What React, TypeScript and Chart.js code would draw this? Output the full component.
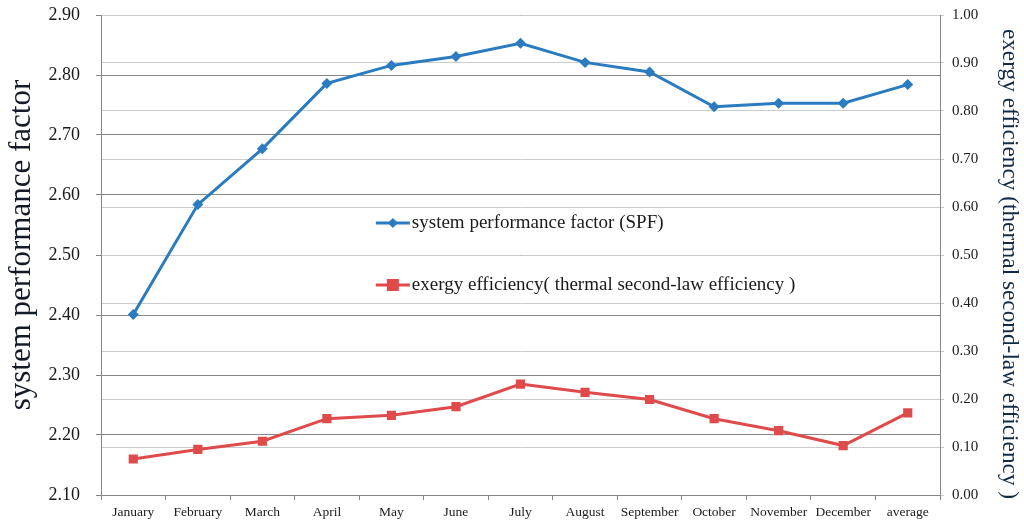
import React, { useEffect, useRef } from "react";
import { Chart, registerables } from "chart.js";

Chart.register(...registerables);

const categories = [
  "January", "February", "March", "April", "May", "June", "July",
  "August", "September", "October", "November", "December", "average",
];
const spfValues = [2.401, 2.584, 2.677, 2.786, 2.816, 2.831, 2.853, 2.821, 2.805, 2.747, 2.753, 2.753, 2.784];
const exergyValues = [0.075, 0.095, 0.112, 0.159, 0.166, 0.184, 0.231, 0.214, 0.199, 0.159, 0.134, 0.103, 0.171];
const spfLabel = "system performance factor (SPF)";
const exergyLabel = "exergy efficiency( thermal second-law efficiency )";
const leftTitle = "system performance factor";
const rightTitle = "exergy efficiency (thermal second-law efficiency )";

const SERIF = "'Liberation Serif', 'Times New Roman', serif";
const BLUE = "#2a7bbf";
const RED = "#df4a4a";
const DARK_GRID = "#878787";
const LIGHT_GRID = "#cbcbcb";

const legendPlugin = {
  id: "inlineLegend",
  afterDraw(chart: any) {
    const ctx = chart.ctx;
    const area = chart.chartArea;
    const x0 = area.left + (area.right - area.left) * 0.3276;
    const rows = [
      { y: area.top + (area.bottom - area.top) * 0.4333, ds: chart.data.datasets[0] },
      { y: area.top + (area.bottom - area.top) * 0.5625, ds: chart.data.datasets[1] },
    ];
    ctx.save();
    for (const r of rows) {
      ctx.strokeStyle = r.ds.borderColor;
      ctx.lineWidth = 3;
      ctx.beginPath();
      ctx.moveTo(x0, r.y);
      ctx.lineTo(x0 + 34, r.y);
      ctx.stroke();
      ctx.fillStyle = r.ds.backgroundColor;
      const cx = x0 + 17;
      if (r.ds.pointStyle === "rectRot") {
        const s = 5;
        ctx.beginPath();
        ctx.moveTo(cx, r.y - s);
        ctx.lineTo(cx + s, r.y);
        ctx.lineTo(cx, r.y + s);
        ctx.lineTo(cx - s, r.y);
        ctx.closePath();
        ctx.fill();
      } else {
        ctx.fillRect(cx - 6, r.y - 6, 12, 12);
      }
      ctx.fillStyle = "#1a1a1a";
      ctx.font = `19px ${SERIF}`;
      ctx.textBaseline = "middle";
      ctx.textAlign = "left";
      ctx.fillText(r.ds.label, x0 + 36, r.y);
    }
    ctx.restore();
  },
};

const axisTitlePlugin = {
  id: "axisTitles",
  afterDraw(chart: any) {
    const ctx = chart.ctx;
    const left = chart.scales.y;
    const right = chart.scales.y1;
    ctx.save();
    ctx.textAlign = "center";
    ctx.textBaseline = "middle";
    ctx.save();
    ctx.translate(left.left + 21.5, 245);
    ctx.rotate(-Math.PI / 2);
    ctx.fillStyle = "#141a28";
    ctx.font = `31px ${SERIF}`;
    ctx.fillText(leftTitle, 0, 0);
    ctx.restore();
    ctx.save();
    ctx.translate(right.right - 15, 264);
    ctx.rotate(Math.PI / 2);
    ctx.fillStyle = "#132a44";
    ctx.font = `23.3px ${SERIF}`;
    ctx.fillText(rightTitle, 0, 0);
    ctx.restore();
    ctx.restore();
  },
};

export default function App() {
  const ref = useRef<HTMLCanvasElement | null>(null);

  useEffect(() => {
    document.body.style.margin = "0";
    const canvas = ref.current;
    if (!canvas) return;
    const chart = new Chart(canvas, {
      type: "line",
      data: {
        labels: categories,
        datasets: [
          {
            label: spfLabel,
            data: spfValues,
            yAxisID: "y",
            borderColor: BLUE,
            backgroundColor: BLUE,
            borderWidth: 3,
            pointStyle: "rectRot",
            pointRadius: 5.5,
            pointHoverRadius: 5.5,
            pointBorderWidth: 0,
            tension: 0,
          },
          {
            label: exergyLabel,
            data: exergyValues,
            yAxisID: "y1",
            borderColor: RED,
            backgroundColor: RED,
            borderWidth: 3,
            pointStyle: "rect",
            pointRadius: 6.5,
            pointHoverRadius: 6.5,
            pointBorderWidth: 0,
            tension: 0,
          },
        ],
      },
      options: {
        responsive: false,
        animation: false,
        devicePixelRatio: 1,
        layout: { padding: { top: 15, left: 0, right: 0, bottom: 0 } },
        plugins: {
          legend: { display: false },
          tooltip: { enabled: false },
        },
        scales: {
          x: {
            type: "category",
            offset: true,
            grid: {
              display: true,
              drawOnChartArea: false,
              drawTicks: true,
              tickLength: 5,
              offset: true,
              color: DARK_GRID,
            },
            border: { display: true, color: DARK_GRID, width: 1 },
            ticks: {
              color: "#1a1a1a",
              font: { family: SERIF, size: 13.5 },
              padding: 4,
              maxRotation: 0,
              autoSkip: false,
            },
            afterFit(scale: any) {
              scale.height = 30;
              scale.paddingLeft = 0;
              scale.paddingRight = 0;
            },
          },
          y: {
            position: "left",
            min: 2.1,
            max: 2.9,
            ticks: {
              stepSize: 0.1,
              color: "#1a1a1a",
              font: { family: SERIF, size: 18 },
              padding: 16,
              callback: (v: any) => Number(v).toFixed(2),
            },
            grid: { color: DARK_GRID, lineWidth: 1, tickLength: 5 },
            border: { display: true, color: DARK_GRID, width: 1 },
            title: { display: false },
            afterFit(scale: any) {
              scale.width = 101;
              scale.paddingTop = 0;
              scale.paddingBottom = 0;
            },
          },
          y1: {
            position: "right",
            min: 0,
            max: 1,
            ticks: {
              stepSize: 0.1,
              color: "#1a1a1a",
              font: { family: SERIF, size: 15 },
              padding: 8,
              callback: (v: any) => Number(v).toFixed(2),
            },
            grid: { color: LIGHT_GRID, lineWidth: 1, tickLength: 4, drawOnChartArea: true },
            border: { display: true, color: DARK_GRID, width: 1 },
            title: { display: false },
            afterFit(scale: any) {
              scale.width = 84;
              scale.paddingTop = 0;
              scale.paddingBottom = 0;
            },
          },
        },
      } as any,
      plugins: [legendPlugin, axisTitlePlugin],
    });
    return () => chart.destroy();
  }, []);

  return (
    <div style={{ width: 1024, height: 525, background: "#fff" }}>
      <canvas ref={ref} width={1024} height={525} style={{ display: "block" }} />
    </div>
  );
}
